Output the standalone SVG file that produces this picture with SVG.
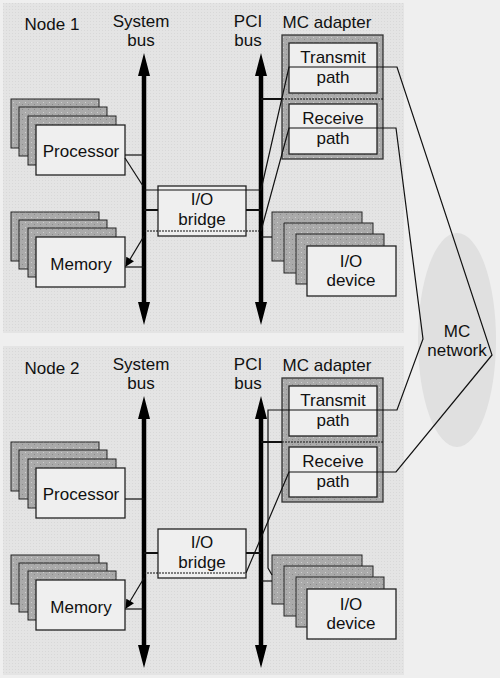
<svg xmlns="http://www.w3.org/2000/svg" width="500" height="678" viewBox="0 0 500 678">
<defs>
<pattern id="dots" width="6" height="5" patternUnits="userSpaceOnUse"><rect width="6" height="5" fill="#aaaaaa"/><rect x="1" y="2" width="1" height="1" fill="#d0d0d0"/><rect x="4" y="4" width="1" height="1" fill="#8a8a8a"/></pattern>
<pattern id="tex" width="3" height="3" patternUnits="userSpaceOnUse"><rect width="3" height="3" fill="#e4e4e4"/><rect x="0" y="0" width="1" height="1" fill="#d8d8d8"/></pattern>
<marker id="ah" viewBox="0 0 10 10" refX="9" refY="5" markerWidth="14" markerHeight="9" markerUnits="userSpaceOnUse" orient="auto"><path d="M0,0 L10,5 L0,10 z" fill="#000"/></marker>
</defs>
<style>
text{font-family:"Liberation Sans",Arial,sans-serif;font-size:17px;fill:#111;text-anchor:middle}
.back{fill:url(#dots);stroke:#222;stroke-width:1}
.front{fill:#efefef;stroke:#222;stroke-width:1.3}
.frame{fill:url(#dots);stroke:#333;stroke-width:1.3}
.bus{stroke:#000;stroke-width:4.5;fill:none}
.ln{stroke:#111;stroke-width:1.2;fill:none}
.lnb{stroke:#111;stroke-width:2;fill:none}
.dot{stroke:#111;stroke-width:1.2;fill:none;stroke-dasharray:2 1}
.head{fill:#000}
</style>
<rect width="500" height="678" fill="#efefef"/>
<g id="panel1"><rect x="3" y="3" width="401" height="330" fill="url(#tex)"/>
<text x="52" y="30">Node 1</text>
<text x="141" y="27">System</text><text x="141" y="46">bus</text>
<text x="248" y="27">PCI</text><text x="248" y="46">bus</text>
<text x="327" y="28">MC adapter</text></g>
<g id="panel2"><rect x="3" y="346" width="401" height="329" fill="url(#tex)"/>
<text x="52" y="374">Node 2</text>
<text x="141" y="370">System</text><text x="141" y="389">bus</text>
<text x="248" y="370">PCI</text><text x="248" y="389">bus</text>
<text x="327" y="371">MC adapter</text></g>
<g id="network"><ellipse cx="457" cy="340" rx="39" ry="107" fill="#e0e0e0"/>
<text x="457" y="337">MC</text><text x="457" y="356">network</text></g>

<g id="n1-processor">
<rect class="back" x="11" y="99" width="88" height="49"/><rect class="back" x="19" y="107" width="88" height="49"/><rect class="back" x="28" y="116" width="88" height="49"/><rect class="front" x="36" y="125" width="89" height="50"/>
<text x="81" y="157">Processor</text></g>
<g id="n1-memory">
<rect class="back" x="11" y="212" width="88" height="49"/><rect class="back" x="19" y="220" width="88" height="49"/><rect class="back" x="28" y="228" width="88" height="49"/><rect class="front" x="36" y="237" width="89" height="50"/>
<text x="81" y="270">Memory</text></g>
<g id="n1-iodevice">
<rect class="back" x="272" y="212" width="90" height="49"/><rect class="back" x="284" y="223" width="89" height="50"/><rect class="back" x="296" y="234" width="88" height="50"/><rect class="front" x="307" y="246" width="89" height="50"/>
<text x="351" y="267">I/O</text><text x="351" y="286">device</text></g>
<g id="n1-bridge"><rect class="front" x="158" y="186" width="88" height="50"/>
<text x="202" y="205">I/O</text><text x="202" y="225">bridge</text></g>
<g id="n1-adapter"><rect class="frame" x="282" y="35" width="101" height="124"/>
<line class="dot" x1="282" y1="99" x2="383" y2="99" stroke="#777"/>
<rect class="front" x="289" y="43" width="88" height="50"/><text x="333" y="63">Transmit</text><text x="333" y="83">path</text>
<rect class="front" x="289" y="104" width="88" height="50"/><text x="333" y="124">Receive</text><text x="333" y="144">path</text></g>

<g id="n2-processor">
<rect class="back" x="11" y="442" width="88" height="49"/><rect class="back" x="19" y="450" width="88" height="49"/><rect class="back" x="28" y="459" width="88" height="49"/><rect class="front" x="36" y="468" width="89" height="50"/>
<text x="81" y="500">Processor</text></g>
<g id="n2-memory">
<rect class="back" x="11" y="555" width="88" height="49"/><rect class="back" x="19" y="563" width="88" height="49"/><rect class="back" x="28" y="571" width="88" height="49"/><rect class="front" x="36" y="580" width="89" height="50"/>
<text x="81" y="613">Memory</text></g>
<g id="n2-iodevice">
<rect class="back" x="272" y="555" width="90" height="49"/><rect class="back" x="284" y="566" width="89" height="50"/><rect class="back" x="296" y="577" width="88" height="50"/><rect class="front" x="307" y="589" width="89" height="50"/>
<text x="351" y="610">I/O</text><text x="351" y="629">device</text></g>
<g id="n2-bridge"><rect class="front" x="158" y="529" width="88" height="49"/>
<text x="202" y="548">I/O</text><text x="202" y="568">bridge</text></g>
<g id="n2-adapter"><rect class="frame" x="282" y="378" width="101" height="124"/>
<line class="dot" x1="282" y1="442" x2="383" y2="442" stroke="#777"/>
<rect class="front" x="289" y="386" width="88" height="50"/><text x="333" y="406">Transmit</text><text x="333" y="426">path</text>
<rect class="front" x="289" y="447" width="88" height="50"/><text x="333" y="467">Receive</text><text x="333" y="487">path</text></g>

<g id="connectors">
<line class="bus" x1="144" y1="72" x2="144" y2="306"/><path class="head" d="M144,53 L150,76 L138,76 z M144,325 L150,302 L138,302 z"/>
<line class="bus" x1="261" y1="72" x2="261" y2="306"/><path class="head" d="M261,53 L267,76 L255,76 z M261,325 L267,302 L255,302 z"/>
<line class="bus" x1="144" y1="415" x2="144" y2="649"/><path class="head" d="M144,396 L150,419 L138,419 z M144,668 L150,645 L138,645 z"/>
<line class="bus" x1="261" y1="415" x2="261" y2="649"/><path class="head" d="M261,396 L267,419 L255,419 z M261,668 L267,645 L255,645 z"/>
<line class="ln" x1="125" y1="155" x2="144" y2="155"/>
<line class="ln" x1="125" y1="158" x2="143" y2="186"/>
<line class="ln" x1="125" y1="267" x2="144" y2="267"/>
<line class="ln" x1="144" y1="236" x2="126" y2="266" marker-end="url(#ah)"/>
<line class="ln" x1="144" y1="190" x2="261" y2="190"/>
<line class="lnb" x1="144" y1="210" x2="158" y2="210"/><line class="lnb" x1="246" y1="210" x2="261" y2="210"/>
<line class="dot" x1="144" y1="231" x2="261" y2="231"/>
<line class="lnb" x1="261" y1="99" x2="282" y2="99"/>
<line class="ln" x1="261" y1="237" x2="272" y2="237"/>
<line class="ln" x1="125" y1="499" x2="144" y2="499"/>
<line class="ln" x1="125" y1="609" x2="144" y2="609"/>
<line class="ln" x1="144" y1="578" x2="126" y2="608" marker-end="url(#ah)"/>
<line class="lnb" x1="144" y1="553" x2="158" y2="553"/><line class="lnb" x1="246" y1="553" x2="261" y2="553"/>
<line class="dot" x1="144" y1="573" x2="246" y2="573"/>
<line class="lnb" x1="261" y1="442" x2="282" y2="442"/>
<line class="ln" x1="261" y1="581" x2="272" y2="581"/>
<polyline class="ln" points="261,190 289,67 397,67 492,355 396,472 289,472 246,573"/>
<polyline class="ln" points="261,231 289,128 396,128 423,339 397,410 268,410 268,568 272,575"/>
</g>
</svg>
